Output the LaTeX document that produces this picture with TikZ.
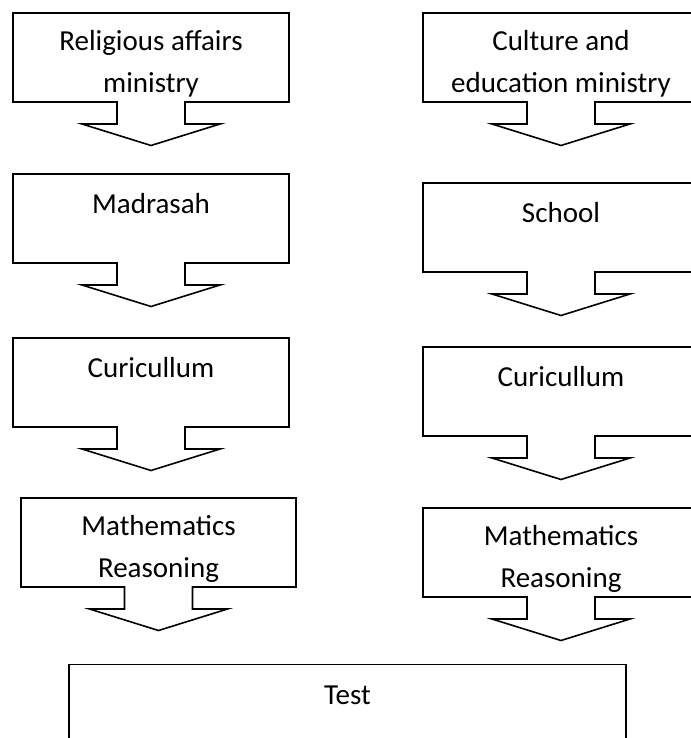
\documentclass[tikz,border=0pt]{standalone}
\usepackage{fontspec}
\setmainfont{Carlito}
\usetikzlibrary{positioning}
\tikzset{
panel/.style={
  minimum width=276pt,
  minimum height=89pt,
  inner sep=0pt,
  outer sep=0pt,
  rectangle,
},
lbl/.style={
  font=\fontsize{29}{41.5}\selectfont,
  align=center,
  inner sep=0pt,
  execute at begin node={\rule{0pt}{22pt}},
},
callframe/.style={
  draw,
  line width=1.6pt,
  line join=miter,
},
}
% box with a down arrow hanging from its bottom edge
\newcommand{\callout}[1]{%
  \draw[callframe] (#1.south west) |- (#1.north east) |- ([xshift=34pt]#1.south)
    -- ++(0,-22) -- ++(35,0) -- ++(-69,-21.5) -- ++(-69,21.5) -- ++(35,0) -- ++(0,22) -- cycle;
}
\begin{document}
\begin{tikzpicture}[x=1pt,y=1pt]
\useasboundingbox (0,0) rectangle (690,-738);

\node[panel] (rel) at (151,-57.5) {};
\node[panel,below=72pt of rel] (mad) {};
\node[panel,below=75pt of mad] (curl) {};
\node[panel,minimum width=275pt,below=71pt of curl,xshift=7.5pt] (mathl) {};

\node[panel,right=134pt of rel] (cul) {};
\node[panel,below=81pt of cul] (sch) {};
\node[panel,below=75pt of sch] (curr) {};
\node[panel,below=72pt of curr] (mathr) {};

\node[panel,callframe,minimum width=557pt,minimum height=100pt,anchor=north] (test) at (347.5,-664.5) {};

\foreach \b in {rel,mad,curl,mathl,cul,sch,curr,mathr}
  \callout{\b};

\node[lbl,below=17.5pt of rel.north] (relt) {Religious affairs\\ministry};
\node[lbl,below=17.5pt of mad.north] (madt) {Madrasah};
\node[lbl,below=17.5pt of curl.north] (curlt) {Curicullum};
\node[lbl,below=17.5pt of mathl.north] (mathlt) {Mathematics\\Reasoning};
\node[lbl,below=17.5pt of cul.north] (cult) {Culture and\\education ministry};
\node[lbl,below=17.5pt of sch.north] (scht) {School};
\node[lbl,below=17.5pt of curr.north] (currt) {Curicullum};
\node[lbl,below=17.5pt of mathr.north] (mathrt) {Mathematics\\Reasoning};
\node[lbl,below=17.5pt of test.north] (testt) {Test};
\end{tikzpicture}
\end{document}
